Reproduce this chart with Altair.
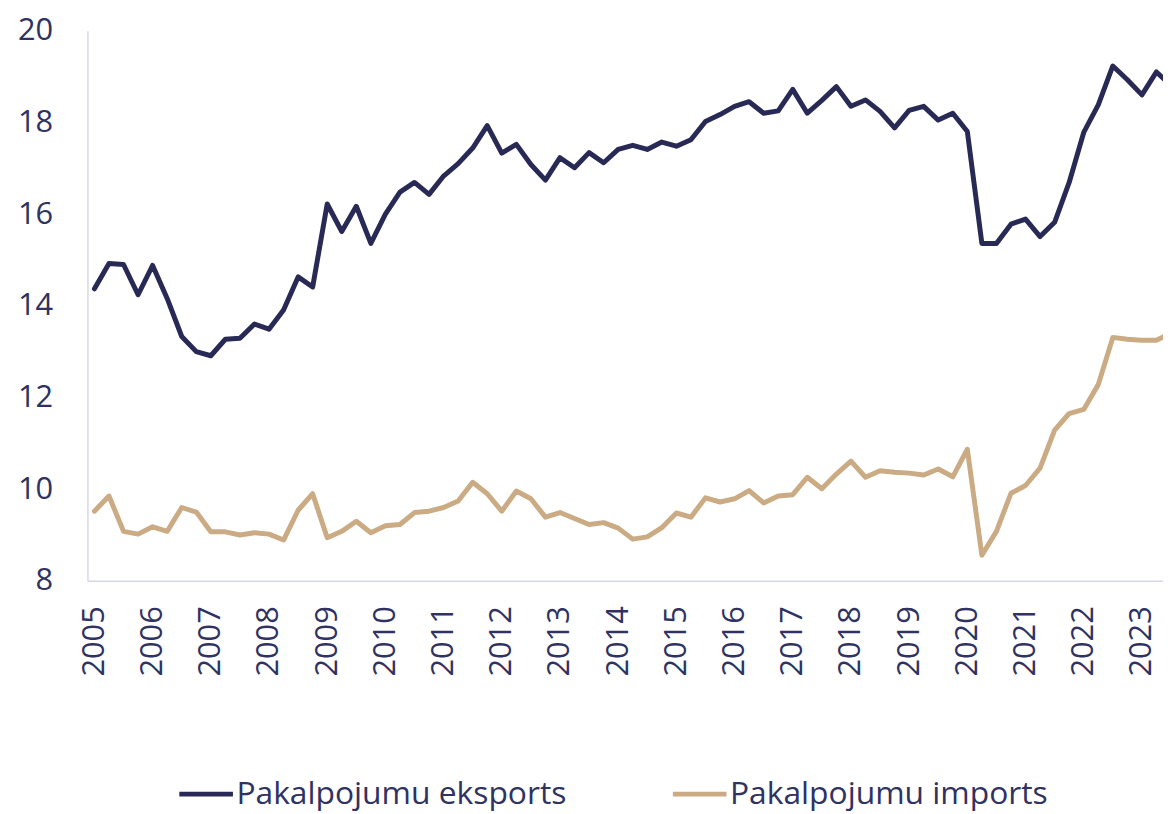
import altair as alt
import pandas as pd

# Quarterly periods 2005Q1 .. 2023Q3
quarters = [f"{y}Q{q}" for y in range(2005, 2024) for q in range(1, 5)][:75]

exports = [
    14.37, 14.92, 14.90, 14.24, 14.88, 14.16, 13.33, 13.00, 12.91, 13.27,
    13.29, 13.60, 13.49, 13.91, 14.63, 14.41, 16.22, 15.62, 16.17, 15.36,
    16.00, 16.48, 16.69, 16.43, 16.83, 17.10, 17.44, 17.93, 17.33, 17.52,
    17.08, 16.74, 17.23, 17.01, 17.34, 17.12, 17.41, 17.50, 17.41, 17.57,
    17.48, 17.62, 18.02, 18.17, 18.35, 18.45, 18.20, 18.25, 18.72, 18.20,
    18.48, 18.78, 18.35, 18.49, 18.24, 17.88, 18.26, 18.35, 18.05, 18.20,
    17.80, 15.36, 15.36, 15.78, 15.89, 15.51, 15.82, 16.69, 17.78, 18.38,
    19.23, 18.93, 18.60, 19.10, 18.80,
]

imports = [
    9.52, 9.85, 9.08, 9.02, 9.18, 9.08, 9.60, 9.50, 9.07, 9.07,
    9.00, 9.05, 9.02, 8.89, 9.54, 9.90, 8.94, 9.08, 9.30, 9.05,
    9.20, 9.23, 9.49, 9.52, 9.60, 9.74, 10.15, 9.90, 9.52, 9.96,
    9.79, 9.39, 9.49, 9.36, 9.23, 9.27, 9.15, 8.91, 8.96, 9.16,
    9.48, 9.39, 9.81, 9.72, 9.79, 9.97, 9.70, 9.85, 9.88, 10.26,
    10.01, 10.33, 10.61, 10.26, 10.40, 10.37, 10.35, 10.31, 10.44, 10.27,
    10.87, 8.56, 9.08, 9.91, 10.08, 10.46, 11.29, 11.65, 11.74, 12.28,
    13.31, 13.27, 13.25, 13.25, 13.40,
]

series_names = ["Pakalpojumu eksports", "Pakalpojumu imports"]
series_colors = ["#282a55", "#cbab84"]
year_ticks = list(range(0, 73, 4))  # positions of Q1 of each year

rows = []
for i, q in enumerate(quarters):
    rows.append({"t": i, "quarter": q, "series": series_names[0], "value": exports[i]})
    rows.append({"t": i, "quarter": q, "series": series_names[1], "value": imports[i]})
df = pd.DataFrame(rows)

FONT = "Open Sans"
TEXT = "#2f3262"
AXIS = "#d6d8e8"

chart = (
    alt.Chart(df)
    .mark_line(strokeWidth=5, strokeJoin="round", strokeCap="round", clip=True)
    .encode(
        x=alt.X(
            "t:Q",
            scale=alt.Scale(domain=[-0.48, 73.45], nice=False, zero=False),
            axis=alt.Axis(
                values=year_ticks,
                labelExpr="'' + floor(2005 + datum.value / 4)",
                labelAngle=270,
                labelAlign="right",
                labelBaseline="middle",
                labelPadding=25,
                ticks=False,
                grid=False,
                domainColor=AXIS,
                domainWidth=1.5,
                labelFontSize=31,
                labelFont=FONT,
                labelColor=TEXT,
                title=None,
            ),
        ),
        y=alt.Y(
            "value:Q",
            scale=alt.Scale(domain=[8, 20], nice=False, zero=False),
            axis=alt.Axis(
                values=[8, 10, 12, 14, 16, 18, 20],
                ticks=False,
                grid=False,
                domainColor=AXIS,
                domainWidth=1.5,
                labelPadding=35,
                labelFontSize=31,
                labelFont=FONT,
                labelColor=TEXT,
                title=None,
            ),
        ),
        color=alt.Color(
            "series:N",
            scale=alt.Scale(domain=series_names, range=series_colors),
            legend=alt.Legend(
                title=None,
                orient="none",
                direction="horizontal",
                legendX=90,
                legendY=739,
                symbolType="stroke",
                symbolSize=2916,
                symbolStrokeWidth=5,
                labelOffset=1,
                columnPadding=96,
                labelFontSize=32,
                labelFont=FONT,
                labelColor=TEXT,
                labelLimit=600,
                padding=0,
            ),
        ),
        detail=alt.Detail("series:N"),
    )
)

chart = chart.properties(
    width=1083,
    height=554,
    autosize=alt.AutoSizeParams(type="none"),
    padding={"left": 80, "top": 20, "right": 0, "bottom": 244},
).configure_view(stroke=None)

chart.save("out.html", embed_options={"renderer": "svg", "actions": False})
